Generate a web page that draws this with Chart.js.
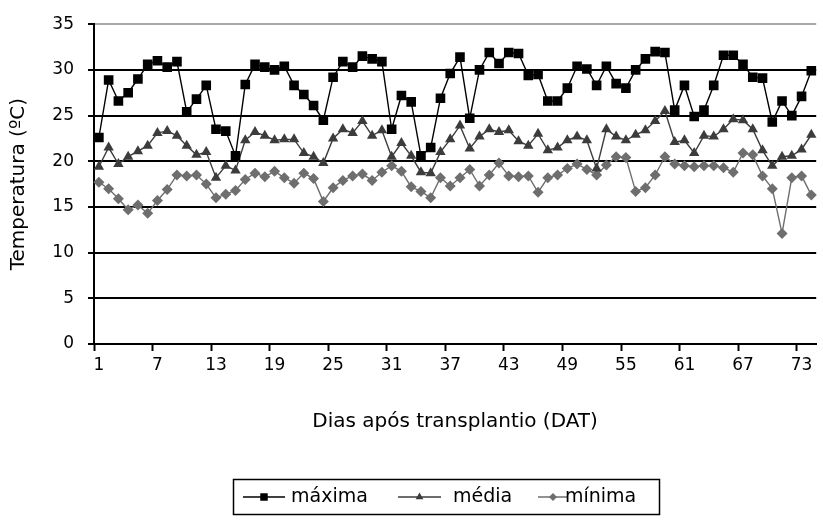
<!DOCTYPE html>
<html>
<head>
<meta charset="utf-8">
<script src="https://cdn.jsdelivr.net/npm/chart.js@4.4.0/dist/chart.umd.min.js"></script>
<style>
  html, body { margin: 0; padding: 0; background: #fff; }
</style>
</head>
<body>
<canvas id="tempChart" width="823" height="520"></canvas>
<script>
// Dias após transplantio (1 a 74)
const dias = Array.from({ length: 74 }, (_, i) => String(i + 1));

// Temperaturas (ºC)
const maxima = [
  22.6, 28.9, 26.6, 27.5, 29.0, 30.6, 31.0, 30.3, 30.9, 25.4,
  26.8, 28.3, 23.5, 23.3, 20.6, 28.4, 30.6, 30.3, 30.0, 30.4,
  28.3, 27.3, 26.1, 24.5, 29.2, 30.9, 30.3, 31.5, 31.2, 30.9,
  23.5, 27.2, 26.5, 20.6, 21.5, 26.9, 29.6, 31.4, 24.7, 30.0,
  31.9, 30.7, 31.9, 31.8, 29.4, 29.5, 26.6, 26.6, 28.0, 30.4,
  30.1, 28.3, 30.4, 28.5, 28.0, 30.0, 31.2, 32.0, 31.9, 25.6,
  28.3, 24.9, 25.6, 28.3, 31.6, 31.6, 30.6, 29.2, 29.1, 24.3,
  26.6, 25.0, 27.1, 29.9
];
const media = [
  19.4, 21.5, 19.7, 20.5, 21.1, 21.7, 23.1, 23.3, 22.8, 21.7,
  20.7, 21.0, 18.2, 19.5, 19.0, 22.3, 23.2, 22.8, 22.3, 22.4,
  22.4, 20.9, 20.5, 19.8, 22.5, 23.5, 23.1, 24.4, 22.8, 23.4,
  20.5, 22.0, 20.6, 18.8, 18.7, 21.0, 22.4, 23.9, 21.4, 22.7,
  23.5, 23.2, 23.4, 22.2, 21.7, 23.0, 21.2, 21.5, 22.3, 22.7,
  22.3, 19.2, 23.5, 22.7, 22.3, 22.9, 23.4, 24.4, 25.5, 22.1,
  22.3, 20.9, 22.8, 22.7, 23.5, 24.6, 24.5, 23.5, 21.2, 19.5,
  20.5, 20.6, 21.3, 22.9
];
const minima = [
  17.7, 17.0, 15.9, 14.7, 15.2, 14.3, 15.7, 16.9, 18.5, 18.4,
  18.5, 17.5, 16.0, 16.4, 16.8, 18.0, 18.7, 18.3, 18.9, 18.2,
  17.6, 18.7, 18.1, 15.6, 17.1, 17.9, 18.4, 18.6, 17.9, 18.8,
  19.5, 18.9, 17.2, 16.7, 16.0, 18.2, 17.3, 18.2, 19.1, 17.3,
  18.5, 19.8, 18.4, 18.3, 18.4, 16.6, 18.2, 18.5, 19.2, 19.7,
  19.1, 18.5, 19.6, 20.5, 20.4, 16.7, 17.1, 18.5, 20.5, 19.7,
  19.5, 19.4, 19.5, 19.5, 19.3, 18.8, 20.9, 20.7, 18.4, 17.0,
  12.1, 18.2, 18.4, 16.3
];

const fonte = "'DejaVu Sans', Verdana, sans-serif";

// legenda com moldura, linha + marcador como no original
const legendaMoldura = {
  id: 'legendaMoldura',
  afterDraw(chart) {
    const ctx = chart.ctx;
    const y = 497;
    const itens = [
      { x0: 243, x1: 285, xt: 291 },
      { x0: 398, x1: 441, xt: 453 },
      { x0: 538, x1: 568, xt: 565 }
    ];
    ctx.save();
    ctx.strokeStyle = '#000';
    ctx.lineWidth = 1.5;
    ctx.strokeRect(233.5, 479.5, 426, 35);
    chart.data.datasets.forEach((ds, i) => {
      const it = itens[i];
      ctx.strokeStyle = ds.borderColor;
      ctx.lineWidth = 1.5;
      ctx.beginPath();
      ctx.moveTo(it.x0, y);
      ctx.lineTo(it.x1, y);
      ctx.stroke();
      ctx.fillStyle = ds.backgroundColor;
      Chart.helpers.drawPoint(ctx, {
        pointStyle: ds.pointStyle, radius: ds.pointRadius - 1.5, rotation: 0, borderWidth: 0
      }, (it.x0 + it.x1) / 2, y);
      ctx.fillStyle = '#000';
      ctx.font = '19px ' + fonte;
      ctx.textBaseline = 'middle';
      ctx.textAlign = 'left';
      ctx.fillText(ds.label, it.xt, y);
    });
    ctx.restore();
  }
};

new Chart(document.getElementById('tempChart'), {
  type: 'line',
  data: {
    labels: dias,
    datasets: [
      {
        label: 'máxima', data: maxima,
        borderColor: '#000', backgroundColor: '#000', borderWidth: 1.4,
        pointStyle: 'rect', pointRadius: 6.8, pointBorderWidth: 0
      },
      {
        label: 'média', data: media,
        borderColor: '#3c3c3c', backgroundColor: '#3c3c3c', borderWidth: 1.4,
        pointStyle: 'triangle', pointRadius: 6, pointBorderWidth: 0
      },
      {
        label: 'mínima', data: minima,
        borderColor: '#6e6e6e', backgroundColor: '#6e6e6e', borderWidth: 1.4,
        pointStyle: 'rectRot', pointRadius: 5.5, pointBorderWidth: 0
      }
    ]
  },
  options: {
    responsive: false,
    devicePixelRatio: 1,
    animation: false,
    layout: { padding: { top: 20, right: 0, bottom: 76, left: 0 } },
    plugins: {
      legend: { display: false },
      tooltip: { enabled: false }
    },
    scales: {
      x: {
        type: 'category',
        offset: true,
        grid: {
          offset: true,
          drawOnChartArea: false,
          tickLength: 7,
          tickWidth: 2,
          tickColor: c => c.index % 6 === 0 ? '#000' : 'rgba(0,0,0,0)'
        },
        border: { display: true, color: '#000', width: 2 },
        ticks: {
          autoSkip: false,
          maxRotation: 0,
          padding: 4,
          color: '#000',
          font: { family: fonte, size: 17 },
          callback: function (v, i) { return i % 6 === 0 ? this.getLabelForValue(v) : ''; }
        },
        title: {
          display: true,
          text: 'Dias após transplantio (DAT)',
          color: '#000',
          font: { family: fonte, size: 20 },
          padding: { top: 0, bottom: 10 }
        },
        afterFit: s => { s.height = 100; }
      },
      y: {
        min: 0,
        max: 35,
        ticks: {
          stepSize: 5,
          padding: 14,
          color: '#000',
          font: { family: fonte, size: 17 }
        },
        grid: {
          color: c => (c.tick && c.tick.value === 35) ? '#a8a8a8' : '#000',
          lineWidth: 2,
          tickLength: 6,
          tickColor: '#000'
        },
        border: { display: true, color: '#000', width: 2 },
        title: {
          display: true,
          text: 'Temperatura (ºC)',
          color: '#000',
          font: { family: fonte, size: 20 },
          padding: { top: 7, bottom: 0 }
        },
        afterFit: s => { s.width = 94; }
      }
    }
  },
  plugins: [legendaMoldura]
});
</script>
</body>
</html>
